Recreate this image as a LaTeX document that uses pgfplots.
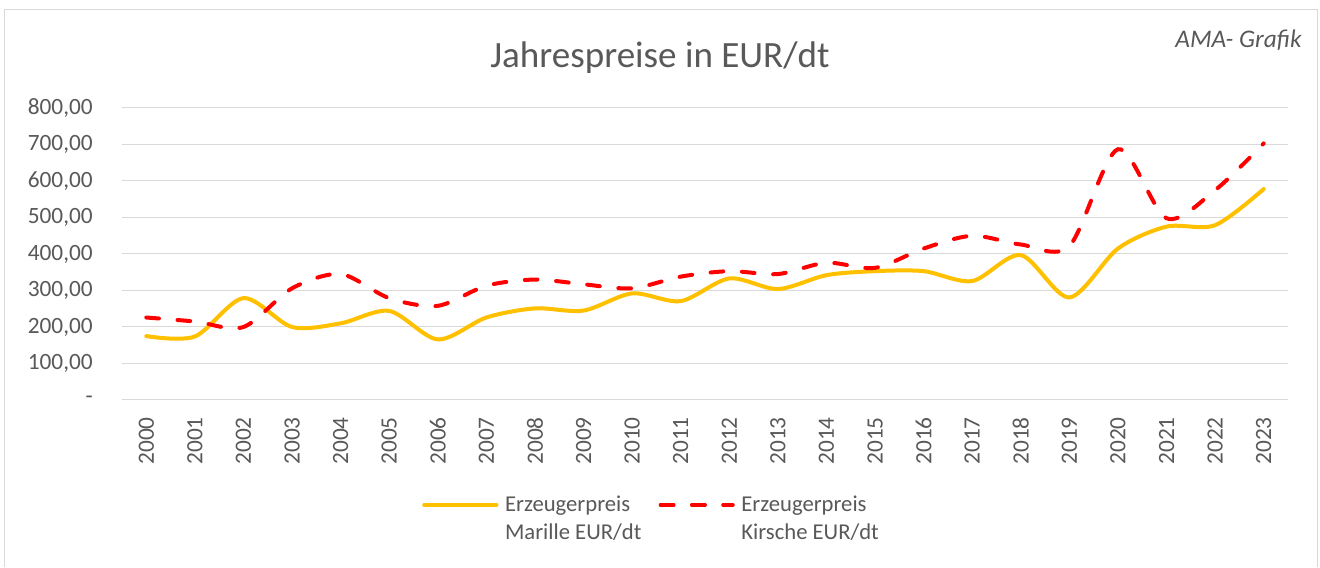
\documentclass[border=0pt]{standalone}
\usepackage{pgfplots}
\pgfplotsset{compat=1.18}
\usepackage{pgfplotstable}
\usepackage{fontspec}
\setmainfont{Carlito}
\definecolor{txt}{HTML}{595959}
\definecolor{gridc}{HTML}{D9D9D9}
\definecolor{frame}{HTML}{D9D9D9}
\definecolor{marille}{HTML}{FFC000}
\definecolor{kirsche}{HTML}{FF0000}

\pgfplotstableread{
x marille kirsche
0 175 226
1 174 215
2 279 200
3 200 306
4 210 345
5 244 279
6 166 258
7 226 313
8 251 330
9 245 317
10 292 306
11 271 338
12 333 353
13 304 345
14 342 376
15 353 362
16 353 415
17 326 450
18 397 426
19 281 422
20 415 687
21 475 498
22 479 575
23 578 703
}\datatable

\begin{document}
\begin{tikzpicture}
% canvas 1320x567 px, 1px = 0.75pt
\fill[white] (0pt,0pt) rectangle (990pt,425.25pt);
\draw[frame, line width=0.75pt] (3pt,0pt) -- (3pt,417.75pt) -- (987.75pt,417.75pt) -- (987.75pt,0pt);
\node[txt, font=\fontsize{27.8}{32}\selectfont] at (495pt,382pt) {Jahrespreise in EUR/dt};
\node[txt, anchor=east, inner sep=0pt, font=\fontsize{19}{22}\selectfont\itshape] at (976.5pt,395.25pt) {AMA- Grafik};
\begin{axis}[
  at={(91.5pt,125.25pt)}, anchor=south west,
  scale only axis, width=874.5pt, height=219pt,
  xmin=-0.5, xmax=23.5, ymin=0, ymax=800,
  xtick={0,...,23},
  xticklabels={2000,2001,2002,2003,2004,2005,2006,2007,2008,2009,2010,2011,2012,2013,2014,2015,2016,2017,2018,2019,2020,2021,2022,2023},
  ytick={0,100,...,800},
  yticklabels={{-\hspace{15pt}},{100,00},{200,00},{300,00},{400,00},{500,00},{600,00},{700,00},{800,00}},
  /pgf/number format/assume math mode=true,
  ymajorgrids, grid style={gridc, line width=0.75pt},
  axis line style={draw=none},
  major tick length=0pt,
  tick label style={txt, font=\fontsize{17.5}{20}\selectfont},
  yticklabel style={anchor=east, inner sep=0pt, xshift=-21.75pt},
  xticklabel style={rotate=90, anchor=east, inner sep=0pt, xshift=-12.75pt},
  clip=false,
  legend columns=2,
  legend style={at={(0.254,-0.31)}, anchor=north west, draw=none, fill=none,
    font=\fontsize{17}{21}\selectfont, text=txt,
    cells={align=left, anchor=west},
    /tikz/every odd column/.append style={column sep=3pt},
    /tikz/every even column/.append style={column sep=11pt}},
  legend image code/.code={\draw[#1] (0pt,10.5pt) -- (50pt,10.5pt);
    \path (0pt,10.5pt) -- (54pt,10.5pt);},
]
\addplot[marille, line width=3pt, smooth, line cap=round] table[x=x, y=marille] {\datatable};
\addlegendentry{Erzeugerpreis\\Marille EUR/dt}
\addplot[kirsche, line width=3pt, smooth, line cap=round, dash pattern=on 9.5pt off 14pt] table[x=x, y=kirsche] {\datatable};
\addlegendentry{Erzeugerpreis\\Kirsche EUR/dt}
\end{axis}
\end{tikzpicture}
\end{document}
